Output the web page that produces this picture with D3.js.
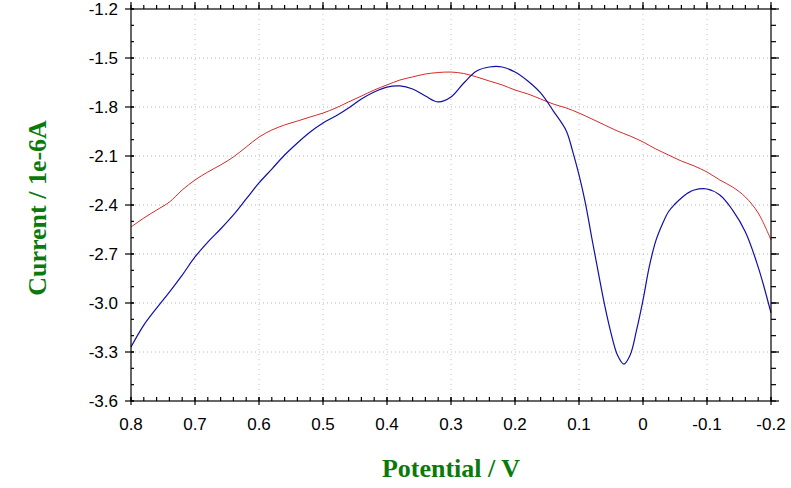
<!DOCTYPE html>
<html>
<head>
<meta charset="utf-8">
<script src="https://cdn.jsdelivr.net/npm/d3@7"></script>
<style>
  body { margin: 0; background: #fff; }
  svg { display: block; }
</style>
</head>
<body>
<svg id="chart" width="791" height="488"></svg>
<script>
//tick labels
var xTicks = [0.8, 0.7, 0.6, 0.5, 0.4, 0.3, 0.2, 0.1, 0, -0.1, -0.2];
var yTicks = [-3.6, -3.3, -3.0, -2.7, -2.4, -2.1, -1.8, -1.5, -1.2];
var xTickLabels = ["0.8", "0.7", "0.6", "0.5", "0.4", "0.3", "0.2", "0.1", "0", "-0.1", "-0.2"];
var yTickLabels = ["-3.6", "-3.3", "-3.0", "-2.7", "-2.4", "-2.1", "-1.8", "-1.5", "-1.2"];

//red trace
var redPotential = [0.80, 0.78, 0.76, 0.74, 0.72, 0.70, 0.68, 0.66, 0.64, 0.62, 0.60, 0.58, 0.56, 0.54, 0.52, 0.50,
    0.48, 0.46, 0.44, 0.42, 0.40, 0.38, 0.36, 0.34, 0.32, 0.30, 0.28, 0.26, 0.24, 0.22, 0.20, 0.18, 0.16, 0.14,
    0.12, 0.10, 0.08, 0.06, 0.04, 0.02, 0.00, -0.02, -0.04, -0.06, -0.08, -0.10, -0.12, -0.14, -0.16, -0.18, -0.20];
var redCurrent = [-2.535, -2.480, -2.431, -2.382, -2.308, -2.247, -2.198, -2.155, -2.106, -2.045, -1.984, -1.941,
    -1.910, -1.886, -1.861, -1.837, -1.806, -1.769, -1.733, -1.696, -1.665, -1.635, -1.616, -1.598, -1.589, -1.586,
    -1.595, -1.616, -1.641, -1.665, -1.696, -1.720, -1.751, -1.782, -1.806, -1.837, -1.873, -1.910, -1.947, -1.978,
    -2.014, -2.057, -2.094, -2.131, -2.161, -2.198, -2.247, -2.290, -2.351, -2.449, -2.614];

//blue trace
var bluePotential = [0.80, 0.78, 0.76, 0.74, 0.72, 0.70, 0.68, 0.66, 0.64, 0.62, 0.60, 0.58, 0.56, 0.54, 0.52, 0.50,
    0.48, 0.46, 0.44, 0.42, 0.40, 0.38, 0.36, 0.34, 0.32, 0.30, 0.28, 0.26, 0.24, 0.22, 0.20, 0.18, 0.16, 0.14,
    0.12, 0.11, 0.10, 0.09, 0.08, 0.07, 0.06, 0.05, 0.04, 0.03, 0.02, 0.01, 0.00, -0.01, -0.02, -0.03, -0.04,
    -0.05, -0.06, -0.07, -0.08, -0.10, -0.12, -0.14, -0.16, -0.18, -0.20];
var blueCurrent = [-3.269, -3.135, -3.031, -2.933, -2.829, -2.718, -2.627, -2.547, -2.461, -2.363, -2.265, -2.180,
    -2.094, -2.020, -1.953, -1.898, -1.855, -1.806, -1.751, -1.708, -1.678, -1.671, -1.690, -1.733, -1.769, -1.739,
    -1.653, -1.580, -1.555, -1.555, -1.586, -1.641, -1.714, -1.825, -1.945, -2.070, -2.216, -2.388, -2.602, -2.810,
    -3.012, -3.184, -3.318, -3.374, -3.318, -3.165, -2.982, -2.774, -2.620, -2.520, -2.440, -2.394, -2.357, -2.327,
    -2.308, -2.302, -2.339, -2.431, -2.565, -2.780, -3.061];

//layout
var plotLeft = 131, plotRight = 771, plotTop = 9, plotBottom = 401;
var svg = d3.select("#chart");

var x = d3.scaleLinear().domain([0.8, -0.2]).range([plotLeft, plotRight]);
var y = d3.scaleLinear().domain([-3.6, -1.2]).range([plotBottom, plotTop]);

var xMinor = d3.range(0, 51).map(function(i) { return 0.8 - i * 0.02; });
var yMinor = d3.range(0, 25).map(function(i) { return -3.6 + i * 0.1; });

//dotted grid
var grid = svg.append("g").attr("class", "grid");
grid.selectAll("line.hgrid")
    .data(yTicks.slice(1, -1))
    .enter().append("line")
    .attr("class", "hgrid")
    .attr("x1", plotLeft).attr("x2", plotRight)
    .attr("y1", function(d) { return y(d); })
    .attr("y2", function(d) { return y(d); })
    .attr("stroke", "#b8b8b8")
    .attr("stroke-width", 1)
    .attr("stroke-dasharray", "1,3");
grid.selectAll("line.vgrid")
    .data(xTicks.slice(1, -1))
    .enter().append("line")
    .attr("class", "vgrid")
    .attr("x1", function(d) { return x(d); })
    .attr("x2", function(d) { return x(d); })
    .attr("y1", plotTop).attr("y2", plotBottom)
    .attr("stroke", "#c0c0c0")
    .attr("stroke-width", 1)
    .attr("stroke-dasharray", "1,4");

//curves
var line = d3.line()
    .x(function(d) { return x(d[0]); })
    .y(function(d) { return y(d[1]); })
    .curve(d3.curveCatmullRom);

svg.append("path")
    .datum(redPotential.map(function(p, i) { return [p, redCurrent[i]]; }))
    .attr("d", line)
    .attr("fill", "none")
    .attr("stroke", "#d42a2a")
    .attr("stroke-width", 1);

svg.append("path")
    .datum(bluePotential.map(function(p, i) { return [p, blueCurrent[i]]; }))
    .attr("d", line)
    .attr("fill", "none")
    .attr("stroke", "#1010a8")
    .attr("stroke-width", 1.2);

//frame
var axes = svg.append("g").attr("stroke", "#000").attr("stroke-width", 1.2);
axes.append("rect")
    .attr("x", plotLeft).attr("y", plotTop)
    .attr("width", plotRight - plotLeft).attr("height", plotBottom - plotTop)
    .attr("fill", "none");

//x ticks, bottom and top
axes.selectAll("line.xmin")
    .data(xMinor)
    .enter().append("line")
    .attr("class", "xmin")
    .attr("x1", function(d) { return x(d); })
    .attr("x2", function(d) { return x(d); })
    .attr("y1", plotBottom).attr("y2", plotBottom - 4);
axes.selectAll("line.xminTop")
    .data(xMinor)
    .enter().append("line")
    .attr("class", "xminTop")
    .attr("x1", function(d) { return x(d); })
    .attr("x2", function(d) { return x(d); })
    .attr("y1", plotTop).attr("y2", plotTop - 4);
axes.selectAll("line.xmaj")
    .data(xTicks)
    .enter().append("line")
    .attr("class", "xmaj")
    .attr("x1", function(d) { return x(d); })
    .attr("x2", function(d) { return x(d); })
    .attr("y1", plotBottom - 4).attr("y2", plotBottom + 4);
axes.selectAll("line.xmajTop")
    .data(xTicks)
    .enter().append("line")
    .attr("class", "xmajTop")
    .attr("x1", function(d) { return x(d); })
    .attr("x2", function(d) { return x(d); })
    .attr("y1", plotTop).attr("y2", plotTop - 7);

//y ticks, left and right
axes.selectAll("line.ymin")
    .data(yMinor)
    .enter().append("line")
    .attr("class", "ymin")
    .attr("y1", function(d) { return y(d); })
    .attr("y2", function(d) { return y(d); })
    .attr("x1", plotLeft).attr("x2", plotLeft + 3);
axes.selectAll("line.yminRight")
    .data(yMinor)
    .enter().append("line")
    .attr("class", "yminRight")
    .attr("y1", function(d) { return y(d); })
    .attr("y2", function(d) { return y(d); })
    .attr("x1", plotRight).attr("x2", plotRight + 5);
axes.selectAll("line.ymaj")
    .data(yTicks)
    .enter().append("line")
    .attr("class", "ymaj")
    .attr("y1", function(d) { return y(d); })
    .attr("y2", function(d) { return y(d); })
    .attr("x1", plotLeft - 6).attr("x2", plotLeft + 3);
axes.selectAll("line.ymajRight")
    .data(yTicks)
    .enter().append("line")
    .attr("class", "ymajRight")
    .attr("y1", function(d) { return y(d); })
    .attr("y2", function(d) { return y(d); })
    .attr("x1", plotRight).attr("x2", plotRight + 8);

//tick labels
svg.selectAll("text.xlab")
    .data(xTicks)
    .enter().append("text")
    .attr("class", "xlab")
    .attr("x", function(d) { return x(d); })
    .attr("y", 430)
    .attr("text-anchor", "middle")
    .style("font-family", "'Liberation Sans', Arial, sans-serif")
    .style("font-size", "17px")
    .text(function(d, i) { return xTickLabels[i]; });

svg.selectAll("text.ylab")
    .data(yTicks)
    .enter().append("text")
    .attr("class", "ylab")
    .attr("x", 118)
    .attr("y", function(d) { return y(d); })
    .attr("dy", "0.36em")
    .attr("text-anchor", "end")
    .style("font-family", "'Liberation Sans', Arial, sans-serif")
    .style("font-size", "17px")
    .text(function(d, i) { return yTickLabels[i]; });

//axis titles
svg.append("text")
    .attr("x", (plotLeft + plotRight) / 2)
    .attr("y", 477)
    .attr("text-anchor", "middle")
    .attr("fill", "#0b7a0b")
    .style("font-family", "'Liberation Serif', 'Times New Roman', serif")
    .style("font-weight", "bold")
    .style("font-size", "26px")
    .text("Potential / V");

svg.append("text")
    .attr("transform", "translate(46,208) rotate(-90)")
    .attr("text-anchor", "middle")
    .attr("fill", "#0b7a0b")
    .style("font-family", "'Liberation Serif', 'Times New Roman', serif")
    .style("font-weight", "bold")
    .style("font-size", "26px")
    .text("Current / 1e-6A");
</script>
</body>
</html>
